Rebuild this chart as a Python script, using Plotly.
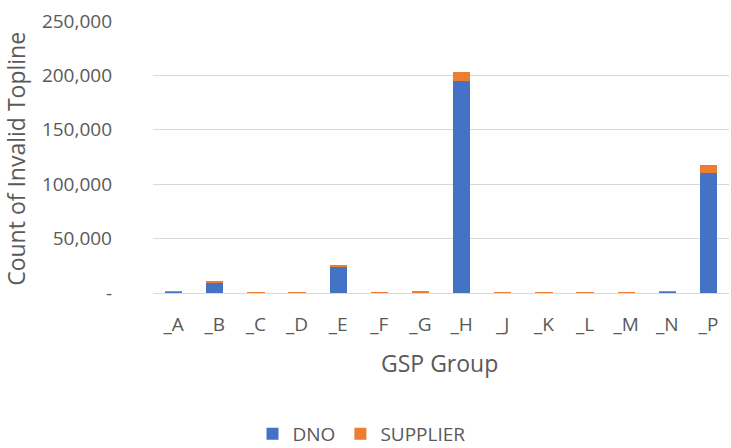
import plotly.graph_objects as go

groups = ["_A", "_B", "_C", "_D", "_E", "_F", "_G", "_H", "_J", "_K", "_L", "_M", "_N", "_P"]
dno = [1200, 9700, 400, 400, 23500, 100, 700, 195000, 200, 100, 500, 100, 1200, 110000]
supplier = [300, 1600, 100, 100, 1900, 200, 300, 8000, 100, 300, 400, 200, 200, 7800]

y_ticks = [0, 50000, 100000, 150000, 200000, 250000]
y_tick_text = ["-", "50,000", "100,000", "150,000", "200,000", "250,000"]

font_family = "'Open Sans', sans-serif"
grey = "#595959"

fig = go.Figure()
fig.add_trace(go.Bar(x=groups, y=dno, name="DNO", marker=dict(color="#4472C4", line=dict(width=0))))
fig.add_trace(go.Bar(x=groups, y=supplier, name="SUPPLIER", marker=dict(color="#ED7D31", line=dict(width=0))))

fig.update_layout(
    barmode="stack",
    bargap=0.58,
    width=731,
    height=448,
    margin=dict(l=153, r=2, t=21, b=155, autoexpand=False),
    paper_bgcolor="white",
    plot_bgcolor="white",
    font=dict(family=font_family, color=grey, size=19),
    showlegend=True,
    legend=dict(orientation="h", x=0.362, y=-0.518, xanchor="center", yanchor="middle",
                font=dict(size=19), traceorder="normal"),
    xaxis=dict(tickfont=dict(size=19), showline=True, linecolor="#D9D9D9", linewidth=1,
               ticks="", automargin=False, ticklabelstandoff=14),
    yaxis=dict(range=[0, 250000], tickvals=y_ticks, ticktext=y_tick_text,
               tickfont=dict(size=19), gridcolor="#D9D9D9", gridwidth=1,
               zeroline=False, showline=False, ticks="", ticklabelstandoff=40,
               automargin=False, ticklabeloverflow="allow"),
    annotations=[
        dict(text="GSP Group", xref="paper", yref="paper", x=0.498, y=-0.257,
             xanchor="center", yanchor="middle", showarrow=False, font=dict(size=23)),
        dict(text="Count of Invalid Topline", xref="paper", yref="paper", x=-0.238, y=0.493,
             xanchor="center", yanchor="middle", showarrow=False, textangle=-90,
             font=dict(size=23)),
    ],
)

# drop the default 8px page margin so the figure fills the window
fig.write_html("out.html", config={"displayModeBar": False},
               post_script="document.body.style.margin = '0px';")
